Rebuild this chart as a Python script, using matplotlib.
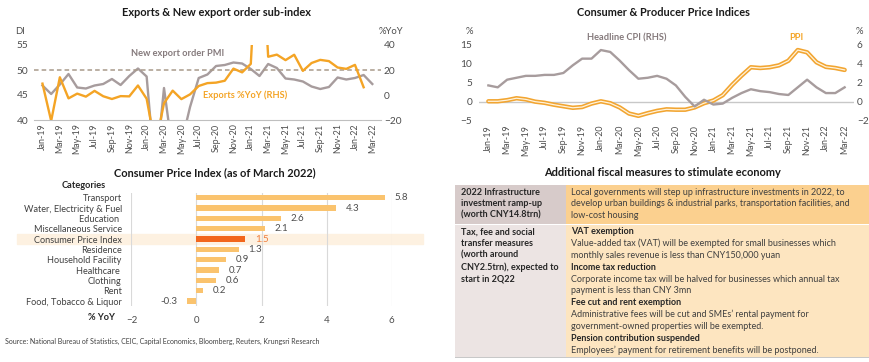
import numpy as np
import pandas as pd
import matplotlib
matplotlib.use('Agg')
import matplotlib.pyplot as plt
from matplotlib.patches import Rectangle

plt.rcParams['font.family'] = ['Lato', 'DejaVu Sans']

# ---- data ----
months = pd.date_range('2019-01-01', '2022-03-01', freq='MS')
month_labels = [m.strftime('%b-%y') for m in months]

pmi_new_export = [46.9, 45.2, 47.1, 49.2, 46.5, 46.3, 46.9, 47.2, 48.2, 47.0, 48.8, 50.3,
                  48.7, 28.7, 46.4, 33.5, 35.3, 42.6, 48.4, 49.1, 50.8, 51.0, 51.5, 51.3,
                  50.2, 48.8, 51.2, 50.4, 48.3, 48.1, 47.7, 46.7, 46.2, 46.6, 48.5, 48.1,
                  48.4, 49.0, 47.2]
exports_yoy = [9.1, -20.7, 14.2, -2.7, 1.1, -1.3, 3.3, -1.0, -3.2, -0.9, -1.1, 7.6,
               -3.0, -40.6, -6.6, 3.5, -3.3, 0.5, 7.2, 9.5, 9.9, 11.4, 21.1, 18.1,
               24.9, 154.9, 30.6, 32.3, 27.9, 32.2, 19.3, 25.6, 28.1, 27.1, 22.0, 20.9,
               24.1, 6.2, np.nan]

cpi = [1.7, 1.5, 2.3, 2.5, 2.7, 2.7, 2.8, 2.8, 3.0, 3.8, 4.5, 4.5,
       5.4, 5.2, 4.3, 3.3, 2.4, 2.5, 2.7, 2.4, 1.7, 0.5, -0.5, 0.2,
       -0.3, -0.2, 0.4, 0.9, 1.3, 1.1, 1.0, 0.8, 0.7, 1.5, 2.3, 1.5,
       0.9, 0.9, 1.5]
ppi = [0.1, 0.1, 0.4, 0.9, 0.6, 0.0, -0.3, -0.8, -1.2, -1.6, -1.4, -0.5,
       0.1, -0.4, -1.5, -3.1, -3.7, -3.0, -2.4, -2.0, -2.1, -2.1, -1.5, -0.4,
       0.3, 1.7, 4.4, 6.8, 9.0, 8.8, 9.0, 9.5, 10.7, 13.5, 12.9, 10.3,
       9.1, 8.8, 8.3]

cpi_categories = ['Transport', 'Water, Electricity & Fuel', 'Education ', 'Miscellaneous Service',
                  'Consumer Price Index', 'Residence', 'Household Facility', 'Healthcare ',
                  'Clothing', 'Rent', 'Food, Tobacco & Liquor']
cpi_values = [5.8, 4.3, 2.6, 2.1, 1.5, 1.3, 0.9, 0.7, 0.6, 0.2, -0.3]
highlight = 'Consumer Price Index'

row1_left = ['2022 Infrastructure', 'investment ramp-up', '(worth CNY14.8trn)']
row1_right = ['Local governments will step up infrastructure investments in 2022, to',
              'develop urban buildings & industrial parks, transportation facilities, and',
              'low-cost housing']
row2_left = ['Tax, fee and social', 'transfer measures', '(worth around',
             'CNY2.5trn), expected to', 'start in 2Q22']
row2_right = [('VAT exemption', True),
              ('Value-added tax (VAT) will be exempted for small businesses which', False),
              ('monthly sales revenue is less than CNY150,000 yuan', False),
              ('Income tax reduction', True),
              ('Corporate income tax will be halved for businesses which annual tax', False),
              ('payment is less than CNY 3mn', False),
              ('Fee cut and rent exemption', True),
              ("Administrative fees will be cut and SMEs\u2019 rental payment for", False),
              ('government-owned properties will be exempted.', False),
              ('Pension contribution suspended', True),
              ('Employees\u2019 payment for retirement benefits will be postponed.', False)]

source = 'Source: National Bureau of Statistics, CEIC, Capital Economics, Bloomberg, Reuters, Krungsri Research'

# ---- colours ----
GREY = '#a79c9d'
ORANGE = '#f4a425'
TXT = '#4d4d4d'
W, H = 870, 362


def box(l, t, r, b):
    # pixel box (from top-left) -> figure rect
    return [l / W, 1 - b / H, (r - l) / W, (b - t) / H]


def fx(px):
    return px / W


def fy(py):
    return 1 - py / H


fig = plt.figure(figsize=(8.7, 3.62), dpi=100)
x = np.arange(len(months))

# ---- chart 1: exports & new export orders ----
ax1 = fig.add_axes(box(33.8, 45, 381, 120))
ax1b = ax1.twinx()
ax1.plot(x, pmi_new_export, color=GREY, lw=1.7)
ax1.axhline(50, color='#a89a8a', lw=1.1, ls=(0, (3, 2)))
ax1b.plot(x, exports_yoy, color=ORANGE, lw=1.7)
ax1.set_ylim(40, 55)
ax1b.set_ylim(-20, 40)
ax1.set_yticks([40, 45, 50, 55])
ax1b.set_yticks([-20, 0, 20, 40])
ax1.set_xlim(-1, 39)
ax1.set_xticks(x[::2])
ax1.set_xticklabels(month_labels[::2], rotation=90)
for a in (ax1, ax1b):
    for s in a.spines.values():
        s.set_visible(False)
    a.tick_params(length=0, labelsize=6.4, colors=TXT, pad=2.5)
ax1.tick_params(axis='y', labelsize=7.3, pad=4)
ax1b.tick_params(axis='y', labelsize=7.3, pad=2)
ax1.spines['bottom'].set_visible(True)
ax1.spines['bottom'].set_color('#bfbfbf')
fig.text(fx(217), fy(12), 'Exports & New export order sub-index', ha='center', va='center',
         fontsize=7.9, fontweight='bold', color='#1a1a1a')
fig.text(fx(20), fy(31), 'DI', ha='center', va='center', fontsize=6.8, color=TXT)
fig.text(fx(391), fy(31), '%YoY', ha='center', va='center', fontsize=6.8, color=TXT)
fig.text(fx(178), fy(53), 'New export order PMI', ha='center', va='center', fontsize=6.7,
         fontweight='bold', color='#857a7c')
fig.text(fx(245), fy(95), 'Exports %YoY (RHS)', ha='center', va='center', fontsize=6.7,
         fontweight='bold', color=ORANGE)

# ---- chart 2: CPI & PPI ----
ax2 = fig.add_axes(box(479, 44.3, 854, 120.8))
ax2b = ax2.twinx()
ax2.axhline(0, color='#c8c8c8', lw=1.0)
ax2.plot(x, ppi, color='#f2a531', lw=3.2, solid_capstyle='round')
ax2.plot(x, ppi, color='#fff3dc', lw=0.9)
ax2b.plot(x, cpi, color=GREY, lw=1.7)
ax2.set_ylim(-5, 15)
ax2b.set_ylim(-2, 6)
ax2.set_yticks([-5, 0, 5, 10, 15])
ax2b.set_yticks([-2, 0, 2, 4, 6])
ax2.set_xlim(-1, 39)
ax2.set_xticks(x[::2])
ax2.set_xticklabels(month_labels[::2], rotation=90)
for a in (ax2, ax2b):
    for s in a.spines.values():
        s.set_visible(False)
    a.tick_params(length=0, labelsize=6.4, colors=TXT, pad=3)
ax2.tick_params(axis='y', labelsize=7.3, pad=5)
ax2b.tick_params(axis='y', labelsize=7.3, pad=2)
fig.text(fx(663), fy(12), 'Consumer & Producer Price Indices', ha='center', va='center',
         fontsize=7.9, fontweight='bold', color='#1a1a1a')
fig.text(fx(469), fy(31), '%', ha='center', va='center', fontsize=6.8, color=TXT)
fig.text(fx(859), fy(31), '%', ha='center', va='center', fontsize=6.8, color=TXT)
fig.text(fx(627), fy(38), 'Headline CPI (RHS)', ha='center', va='center', fontsize=6.7,
         fontweight='bold', color='#857a7c')
fig.text(fx(796), fy(38), 'PPI', ha='center', va='center', fontsize=6.7,
         fontweight='bold', color=ORANGE)

# ---- chart 3: CPI components ----
ax3 = fig.add_axes(box(131.5, 192.5, 391.5, 306.2))
yy = np.arange(len(cpi_categories))
colors = ['#f2661c' if c == highlight else '#fac36e' for c in cpi_categories]
hi = cpi_categories.index(highlight)
ax3.axhspan(hi - 0.5, hi + 0.5, xmin=-0.44, xmax=1.12, color='#fdf1e1', clip_on=False, zorder=0)
ax3.barh(yy, cpi_values, height=0.52, color=colors, zorder=3)
for i, v in enumerate(cpi_values):
    c = '#f07d3c' if cpi_categories[i] == highlight else TXT
    if v >= 0:
        ax3.annotate(f'{v:.1f}', (v, i), xytext=(7, 0), textcoords='offset points',
                     ha='left', va='center', fontsize=7, color=c)
    else:
        ax3.annotate(f'{v:.1f}', (v, i), xytext=(-7, 0), textcoords='offset points',
                     ha='right', va='center', fontsize=7, color=c)
ax3.set_xlim(-2, 6)
ax3.set_ylim(len(cpi_categories) - 0.5, -0.5)
ax3.set_xticks([-2, 0, 2, 4, 6])
ax3.set_yticks(yy)
ax3.set_yticklabels(cpi_categories)
ax3.grid(axis='x', color='#d9d9d9', lw=0.8, zorder=1)
ax3.set_axisbelow(True)
for s in ax3.spines.values():
    s.set_visible(False)
ax3.tick_params(length=0, labelsize=6.6, colors='#404040')
ax3.tick_params(axis='y', pad=7)
ax3.tick_params(axis='x', pad=7, colors=TXT, labelsize=7)
fig.text(fx(215), fy(172.7), 'Consumer Price Index (as of March 2022)', ha='center', va='center',
         fontsize=7.9, fontweight='bold', color='#1a1a1a')
fig.text(fx(62), fy(185.7), 'Categories', ha='left', va='center', fontsize=6.7,
         fontweight='bold', color='#262626')
fig.text(fx(88), fy(317), '% YoY', ha='left', va='center', fontsize=6.7,
         fontweight='bold', color='#262626')
fig.text(fx(5), fy(341), source, ha='left', va='center', fontsize=5.0, color='#404040')

# ---- table: fiscal measures ----
fig.text(fx(662), fy(172.7), 'Additional fiscal measures to stimulate economy', ha='center',
         va='center', fontsize=7.9, fontweight='bold', color='#1a1a1a')
cells = [(455, 185, 566, 224, '#d7cbca'), (566, 185, 870, 224, '#fbd08f'),
         (455, 225, 566, 357, '#ece4e3'), (566, 225, 870, 357, '#fde5c0')]
for l, t, r, b, c in cells:
    fig.add_artist(Rectangle((fx(l), fy(b)), (r - l) / W, (b - t) / H,
                             transform=fig.transFigure, facecolor=c, edgecolor='none'))
fig.add_artist(Rectangle((fx(455), fy(358)), 415 / W, 1 / H, transform=fig.transFigure,
                         facecolor='#c8c8c8', edgecolor='none'))

TBL = 6.45
for i, line in enumerate(row1_left):
    fig.text(fx(461), fy(192.7 + 11.3 * i), line, ha='left', va='center', fontsize=TBL,
             fontweight='bold', color='#262626')
for i, line in enumerate(row1_right):
    fig.text(fx(571), fy(192.7 + 11.3 * i), line, ha='left', va='center', fontsize=TBL,
             color='#404040')
for i, line in enumerate(row2_left):
    fig.text(fx(461), fy(231.7 + 11.8 * i), line, ha='left', va='center', fontsize=TBL,
             fontweight='bold', color='#262626')
for i, (line, bold) in enumerate(row2_right):
    fig.text(fx(571), fy(231.7 + 11.83 * i), line, ha='left', va='center', fontsize=TBL,
             fontweight='bold' if bold else 'normal', color='#262626' if bold else '#404040')

fig.savefig('out.png', dpi=100)
